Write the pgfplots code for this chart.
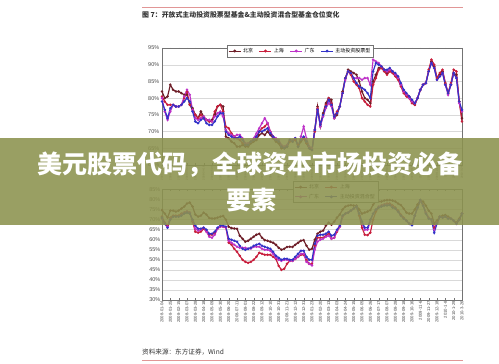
\documentclass[border=0pt]{standalone}
\usepackage{pgfplots}
\pgfplotsset{compat=1.18}
\usepackage{pgfplotstable}
\usepackage{fontspec}
\setmainfont{Liberation Sans}
\newfontfamily\cjk{Noto Sans CJK SC}
\definecolor{cbj}{RGB}{110,30,40}
\definecolor{csh}{RGB}{200,30,60}
\definecolor{cgd}{RGB}{190,50,200}
\definecolor{czd}{RGB}{50,50,200}
\definecolor{banner}{RGB}{140,146,78}
\definecolor{redline}{RGB}{225,150,150}

\pgfplotstableread{
i bj sh gd zd
0 82 80.5 80 79
1 80 79 76 76.5
2 80.5 78 73.5 74
3 84 78 76 77
4 82.5 78 78 78
5 82 77.5 77.5 77.5
6 82 77.5 77.5 77.5
7 81.5 78 78 78
8 81 80 80.5 79
9 81 82 82.5 80
10 78 78 81 79
11 77 76.5 76.5 76
12 75 75 74 73
13 74 74 73.5 72.5
14 76 75 74 73.5
15 74.5 74 74.5 74
16 73.5 73.5 73.5 72.5
17 73 73 73.5 72
18 73.5 73 73 72
19 75 76 74.5 73
20 77.5 77.5 75.5 74.5
21 78 78 76 75.5
22 77.5 76 74.5 75.5
23 68.5 71.5 70.5 70
24 68 71 69.5 69
25 67 69.5 69 68.5
26 66.5 68.5 68.5 68
27 65.5 68 69 68
28 65.5 67.5 69 68.5
29 66 66.5 68 67.5
30 65.5 66 66.5 66
31 65.5 66 66.5 66
32 66.5 67 67 67
33 67 67.5 68 67.5
34 67.5 68.5 69.5 68.5
35 69 70 71 70
36 69.5 71 72.5 70
37 69 71.5 74 70.5
38 70 72.5 72.5 71
39 69 70 70 69.5
40 68 68.5 68.5 68.5
41 67 67.5 68 67.5
42 66.5 67 67.5 67
43 65 65.5 66 65.5
44 65 65 65.5 65
45 65.5 65.5 66 65.5
46 67.5 67 67.5 67.5
47 67 67 67.5 67
48 68 67.5 68 68
49 65.5 66 65.5 65.5
50 67 67.5 68.5 67.5
51 68 68 71.5 68.5
52 66.5 66.5 68 67
53 65 65 65.5 65
54 64.5 64.5 65 64.5
55 70.5 70 70.5 70.5
56 77.5 77 76.5 76.5
57 71.5 72 71.5 72
58 75.5 75 74.5 75
59 78.5 78 77 77.5
60 80 80 78.5 79.5
61 79.5 78.5 77.5 78
62 74 74.5 74 74.5
63 75 76 75.5 75.5
64 77.5 77.5 77.5 77.5
65 82 81.5 81.5 81.5
66 86 86 85.5 86
67 88.5 88 88 88
68 88 87 87.5 87.5
69 87.5 85 86 86
70 87 84 86 84.5
71 85 83 86 83.5
72 82 80 85.5 83
73 80 79 86 82.5
74 79.5 78 86 81.5
75 78.5 77.5 84 80
76 85 84 91.5 88
77 87 86 91 90.5
78 89 88.5 90.5 90
79 89.5 89 89.5 89.5
80 88.5 88 88.5 88.5
81 87.5 87 88 88.5
82 88.5 88 88.5 89
83 88 87.5 88 88
84 87 86.5 87 87.5
85 86 85.5 86 86.5
86 84 83.5 84 84.5
87 82 81.5 82 82.5
88 81 80.5 81 81.5
89 80.5 80 80 80.5
90 79 78.5 79 79.5
91 78 78 78.5 78.5
92 80 80 80 80
93 82.5 82.5 82.5 82.5
94 84 84 84 84
95 84.5 84.5 84.5 84.5
96 88 88.5 88 88
97 91 91.5 90.5 90.5
98 89.5 90 89 89
99 86 86 85.5 85.5
100 87 87.5 86.5 86.5
101 88 88.5 87.5 87.5
102 84.5 84.5 84 84
103 81.5 81.5 81 81.5
104 84 84.5 84 84
105 87.5 88.5 87.5 87.5
106 87 88 86 86
107 79 79 78.5 79
108 74 73 76 76.5
}\topdata

\pgfplotstableread{
i bj sh gd zd
0 74.75 71.5 70.5 71
1 73 68.5 68 68
2 71 67 66.5 66
3 74.5 71 70.5 70
4 74.5 72 71.5 71.5
5 74 72 71.5 71.5
6 74.5 72 71.5 71.5
7 75.5 73 72.5 72
8 76.5 73.5 73.5 73
9 78 74 74 73.5
10 78.5 73.5 73.5 73
11 76.5 69 69.5 70
12 72.5 64 65.5 67
13 71.5 63.5 64.5 65.5
14 72 64 65 65.5
15 73.5 65.5 66 66
16 72.5 64 64 65
17 70.8 62.5 61.5 63
18 70.6 62.5 61 63
19 70.6 63.5 62.5 64
20 71 65.5 65.5 66
21 71.5 66.5 66.5 67
22 71.8 66.5 66.5 67
23 70 66 66 66.5
24 66.5 58.5 59.5 60.5
25 65.8 57.5 58.5 60
26 65.6 55.5 57.5 59.5
27 65.5 54 56.5 59
28 62 52 56 57
29 60.5 50 56 55.5
30 59 49 56 55
31 59.5 48.5 55.5 55.5
32 60.5 49 55.6 56
33 61.5 50 56.5 57
34 62.5 51.5 56.5 57.5
35 63 53.5 56.5 58
36 61 53 55.5 57
37 59.8 52.5 55 56.5
38 59.5 52.5 55 56
39 59 52.5 54.5 55.5
40 58.5 51.5 53 54
41 57.5 50.5 51 52
42 56 47 50 51
43 55 45 49.5 50
44 55.5 45.5 50 50.5
45 56.4 48 50 50.5
46 56.5 49.5 49.5 50
47 56.4 49.5 49.5 50
48 57.5 50.5 50.5 51.5
49 58.5 51.5 51.5 53
50 59.5 52.5 53 54.5
51 59.8 52.5 53 54.5
52 57 50 49 51.5
53 55 48 48 50
54 55.5 48 47.25 50
55 60 57 55 58
56 63 61 59 62
57 64 61 60 62.5
58 64.5 61 60.5 62.5
59 67 62 61.5 63
60 68.5 63 62 64
61 67.5 60.5 60.5 62
62 69 61 61 62.5
63 71 64 64.5 65
64 72.5 66.5 66.5 67
65 75 71.5 71.5 72
66 76.5 73 73 73
67 77 73.5 73.5 73.5
68 77.25 74.5 74.5 74.5
69 77 75.5 75.5 75.5
70 77 76.5 76.5 76.5
71 75 72 73 73
72 73 66 68 69
73 73.5 62.5 65 66
74 74 62.3 65 66
75 74.75 63.5 69 70
76 77.5 70 73 73
77 79 74 75 75
78 79 76 76.5 76
79 79 77 77 76.5
80 79.5 77.5 77.5 77
81 79.7 78 77.5 77
82 79.75 78 77.5 77.25
83 79.5 77 76.5 76
84 79 76 75.5 75.5
85 78 74.5 74 74
86 77.25 72.5 72 72
87 75.5 71 70.5 70.5
88 73.5 69.5 69.5 69.5
89 73 68 68 68
90 73 67.5 67.5 67.25
91 75 72 72 72
92 77.5 76 76 76
93 79.75 79.5 79.5 79.75
94 79 77.5 77 77
95 77 73.5 73.5 73
96 74.5 71 71 70.5
97 73 70 70 70
98 68 66 65 63.5
99 69.5 68.5 68.5 68
100 71.4 71.5 71.4 71.4
101 72 71 71 71
102 72.3 71.5 71.5 71.5
103 71.5 70.8 70.7 70.5
104 70.5 70.5 70.5 70.5
105 69.5 69.5 69.5 69.5
106 68.5 68 68 68
107 70.5 70 70 70
108 73 73 73 73
}\botdata

\pgfplotsset{
  chartstyle/.style={
    scale only axis, width=300pt,
    xmin=0, xmax=108,
    xtick={0,3,...,108},
    xticklabels={2008-01-04,2008-01-25,2008-02-15,2008-03-07,2008-03-28,2008-04-18,2008-05-09,2008-05-30,2008-06-20,2008-07-11,2008-08-01,2008-08-22,2008-09-12,2008-10-10,2008-10-31,2008-11-21,2008-12-12,2008-12-31,2009-01-23,2009-02-20,2009-03-13,2009-04-03,2009-04-24,2009-05-15,2009-06-05,2009-06-26,2009-07-17,2009-08-07,2009-08-28,2009-09-18,2009-10-16,2009-11-6,2009-11-27,2009-12-18,2010-1-8,2010-1-29,2010-3-26},
    xticklabel style={rotate=90, anchor=east, font=\fontsize{4.2}{4.2}\selectfont, text=black!70, inner sep=1pt},
    yticklabel style={font=\fontsize{5.5}{5.5}\selectfont, text=black!70, inner sep=1.5pt},
    ymajorgrids, grid style={black!15, line width=0.4pt},
    axis line style={black!55, line width=0.5pt},
    major tick length=1.5pt, tick style={black!55},
    ytick style={draw=none},
    legend cell align=left,
    every axis plot/.append style={line width=1.15pt, mark=*, mark size=0.6pt},
  }
}

\begin{document}
\begin{tikzpicture}
\useasboundingbox (0pt,0pt) rectangle (499pt,364pt);
\fill[white] (0pt,0pt) rectangle (499pt,364pt);
\draw[redline, line width=0.8pt] (142pt,357pt) -- (463pt,357pt);
\node[anchor=west, inner sep=0pt, text=black!80, font=\cjk\bfseries\fontsize{6.9}{6.9}\selectfont] at (142pt,349pt) {图 7：开放式主动投资股票型基金\&主动投资混合型基金仓位变化};

% Top chart
\begin{axis}[chartstyle, at={(162pt,199pt)}, anchor=south west, height=117pt,
  ymin=60, ymax=95, ytick={60,65,70,75,80,85,90,95},
  yticklabels={60\%,65\%,70\%,75\%,80\%,85\%,90\%,95\%},
  yticklabel style={inner sep=2.6pt},
  xticklabel style={font=\fontsize{2.8}{2.8}\selectfont},
  legend style={at={(0.217,1.026)}, anchor=north west, legend columns=4, draw=black!55, fill=white,
    font=\cjk\fontsize{5}{5}\selectfont, inner sep=1pt, row sep=0pt,
    /tikz/every even column/.append style={column sep=4pt}},
  legend image code/.code={\draw[#1, line width=0.8pt] (0pt,0pt) -- (12pt,0pt); \fill[#1] (6pt,0pt) circle (0.8pt);}
]
\addplot[cbj] table[x=i, y=bj] {\topdata};
\addplot[csh] table[x=i, y=sh] {\topdata};
\addplot[cgd] table[x=i, y=gd] {\topdata};
\addplot[czd] table[x=i, y=zd] {\topdata};
\legend{北京,上海,广东,主动投资股票型}
\end{axis}

% Bottom chart
\begin{axis}[chartstyle, at={(162pt,64pt)}, anchor=south west, height=110.5pt,
  ymin=30, ymax=85, ytick={30,35,40,45,50,55,60,65,70,75,80,85},
  yticklabels={30\%,35\%,40\%,45\%,50\%,55\%,60\%,65\%,70\%,75\%,80\%,85\%},
  legend style={at={(0.72,1.077)}, anchor=north east, legend columns=2, draw=black!55, fill=white,
    font=\cjk\fontsize{5}{5}\selectfont, inner sep=1pt, row sep=0pt,
    /tikz/every even column/.append style={column sep=4pt}},
  legend image code/.code={\draw[#1, line width=0.8pt] (0pt,0pt) -- (12pt,0pt); \fill[#1] (6pt,0pt) circle (0.8pt);}
]
\addplot[cbj] table[x=i, y=bj] {\botdata};
\addplot[csh] table[x=i, y=sh] {\botdata};
\addplot[cgd] table[x=i, y=gd] {\botdata};
\addplot[czd] table[x=i, y=zd] {\botdata};
\legend{北京,上海,广东,主动投资混合型}
\end{axis}

\node[anchor=west, inner sep=0pt, text=black!80, font=\cjk\fontsize{6.6}{6.6}\selectfont] at (142pt,12pt) {资料来源：东方证券，Wind};
\draw[redline, line width=0.8pt] (142pt,4pt) -- (463pt,4pt);

% Banner overlay
\fill[banner, opacity=0.88] (0pt,139pt) rectangle (499pt,226pt);
\node[text=white, inner sep=0pt, font=\cjk\bfseries\fontsize{25}{25}\selectfont] at (250pt,199pt) {美元股票代码，全球资本市场投资必备};
\node[text=white, inner sep=0pt, font=\cjk\bfseries\fontsize{25}{25}\selectfont] at (251pt,164pt) {要素};
\end{tikzpicture}
\end{document}
